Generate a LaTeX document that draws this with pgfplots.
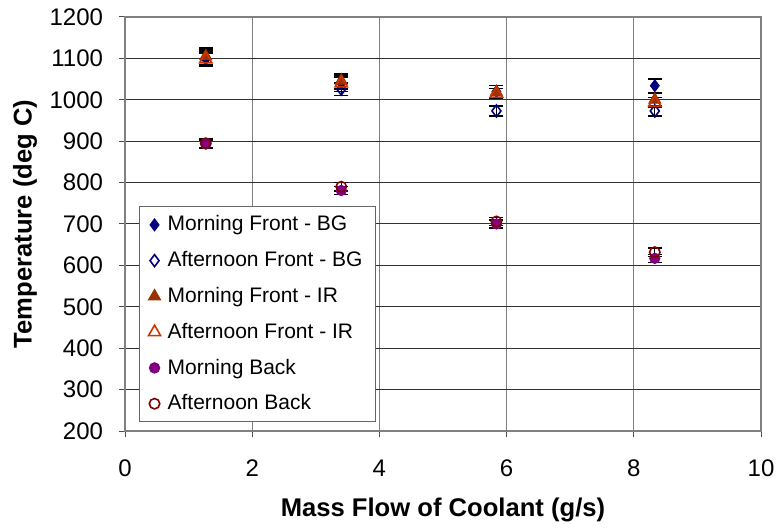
\documentclass[border=0pt]{standalone}
\usepackage{fontspec}
\setmainfont{Liberation Sans}
\usepackage{pgfplots}
\pgfplotsset{compat=1.18}
\definecolor{navyc}{RGB}{0,0,128}
\definecolor{brownc}{RGB}{153,51,0}
\definecolor{orangec}{RGB}{204,51,0}
\definecolor{purplec}{RGB}{128,0,128}
\definecolor{darkredc}{RGB}{128,0,0}
\begin{document}
\begin{tikzpicture}
\begin{axis}[
  scale only axis,
  width=318bp, height=207bp,
  xmin=0, xmax=10, ymin=200, ymax=1200,
  xtick={0,2,...,10}, ytick={200,300,...,1200},
  tick align=outside, xtick pos=left, ytick pos=left,
  major tick length=3bp,
  tick style={black!70, line width=0.5bp},
  grid=major,
  major x grid style={black!50, line width=0.6bp},
  major y grid style={black!80, line width=0.5bp},
  axis line style={black!50, line width=0.6bp},
  /pgf/number format/assume math mode=true,
  /pgf/number format/1000 sep={},
  ticklabel style={font=\fontsize{12bp}{14bp}\selectfont},
  xticklabel style={yshift=-8bp},
  yticklabel style={xshift=-4.5bp},
  xlabel={\bfseries Mass Flow of Coolant (g/s)},
  ylabel={\bfseries Temperature (deg C)},
  label style={font=\fontsize{12.8bp}{15bp}\selectfont},
  xlabel style={at={(axis description cs:0.5,0)}, anchor=center, yshift=-39.5bp},
  ylabel style={at={(axis description cs:-0.157,0.5)}, anchor=center},
  legend style={at={(0.022,0.021)}, anchor=south west, draw=black!60, line width=0.5bp,
     font=\fontsize{10.5bp}{12bp}\selectfont, row sep=4.8bp, inner xsep=4.5bp, inner ysep=2.5bp,
     cells={anchor=west},
     /tikz/every odd column/.append style={column sep=1.5bp}},
  legend cell align=left,
  error bars/y dir=both, error bars/y explicit,
  error bars/error bar style={black, line width=0.7bp},
  error bars/error mark options={rotate=90, black, mark size=3.5bp, line width=0.7bp},
]
\addplot[only marks, mark=diamond*, mark size=3bp, color=navyc, mark options={fill=navyc}]
  coordinates {(1.27,1100) +- (0,20) (3.40,1040) +- (0,20) (5.84,1020) +- (0,15) (8.33,1034) +- (0,16)};
\addlegendentry{Morning Front - BG}
\addplot[only marks, mark=diamond, mark size=3bp, color=navyc, mark options={fill=white, line width=0.8bp}]
  coordinates {(1.27,1100) +- (0,15) (3.40,1026) +- (0,15) (5.84,973) +- (0,12) (8.33,973) +- (0,12)};
\addlegendentry{Afternoon Front - BG}
\addplot[only marks, mark=triangle*, mark size=3.5bp, color=brownc, mark options={fill=brownc}]
  coordinates {(1.27,1105) +- (0,20) (3.40,1046) +- (0,18) (5.84,1019) +- (0,15) (8.33,1000) +- (0,15)};
\addlegendentry{Morning Front - IR}
\addplot[only marks, mark=triangle, mark size=3.5bp, color=orangec, mark options={fill=white, line width=0.8bp}]
  coordinates {(1.27,1098) +- (0,15) (3.40,1040) +- (0,15) (5.84,1015) +- (0,12) (8.33,993) +- (0,12)};
\addlegendentry{Afternoon Front - IR}
\addplot[only marks, mark=*, mark size=2.6bp, color=purplec, mark options={fill=purplec}]
  coordinates {(1.27,893) +- (0,10) (3.40,781) +- (0,10) (5.84,700) +- (0,10) (8.33,617) +- (0,10)};
\addlegendentry{Morning Back}
\addplot[only marks, mark=o, mark size=2.6bp, color=darkredc, mark options={line width=0.8bp}]
  coordinates {(1.27,895) +- (0,10) (3.40,790) +- (0,10) (5.84,706) +- (0,10) (8.33,632) +- (0,10)};
\addlegendentry{Afternoon Back}
\end{axis}
\pgfresetboundingbox
\path ([shift={(-62.5bp,-50bp)}]current axis.south west) rectangle ([shift={(9.5bp,8.5bp)}]current axis.north east);
\end{tikzpicture}
\end{document}
